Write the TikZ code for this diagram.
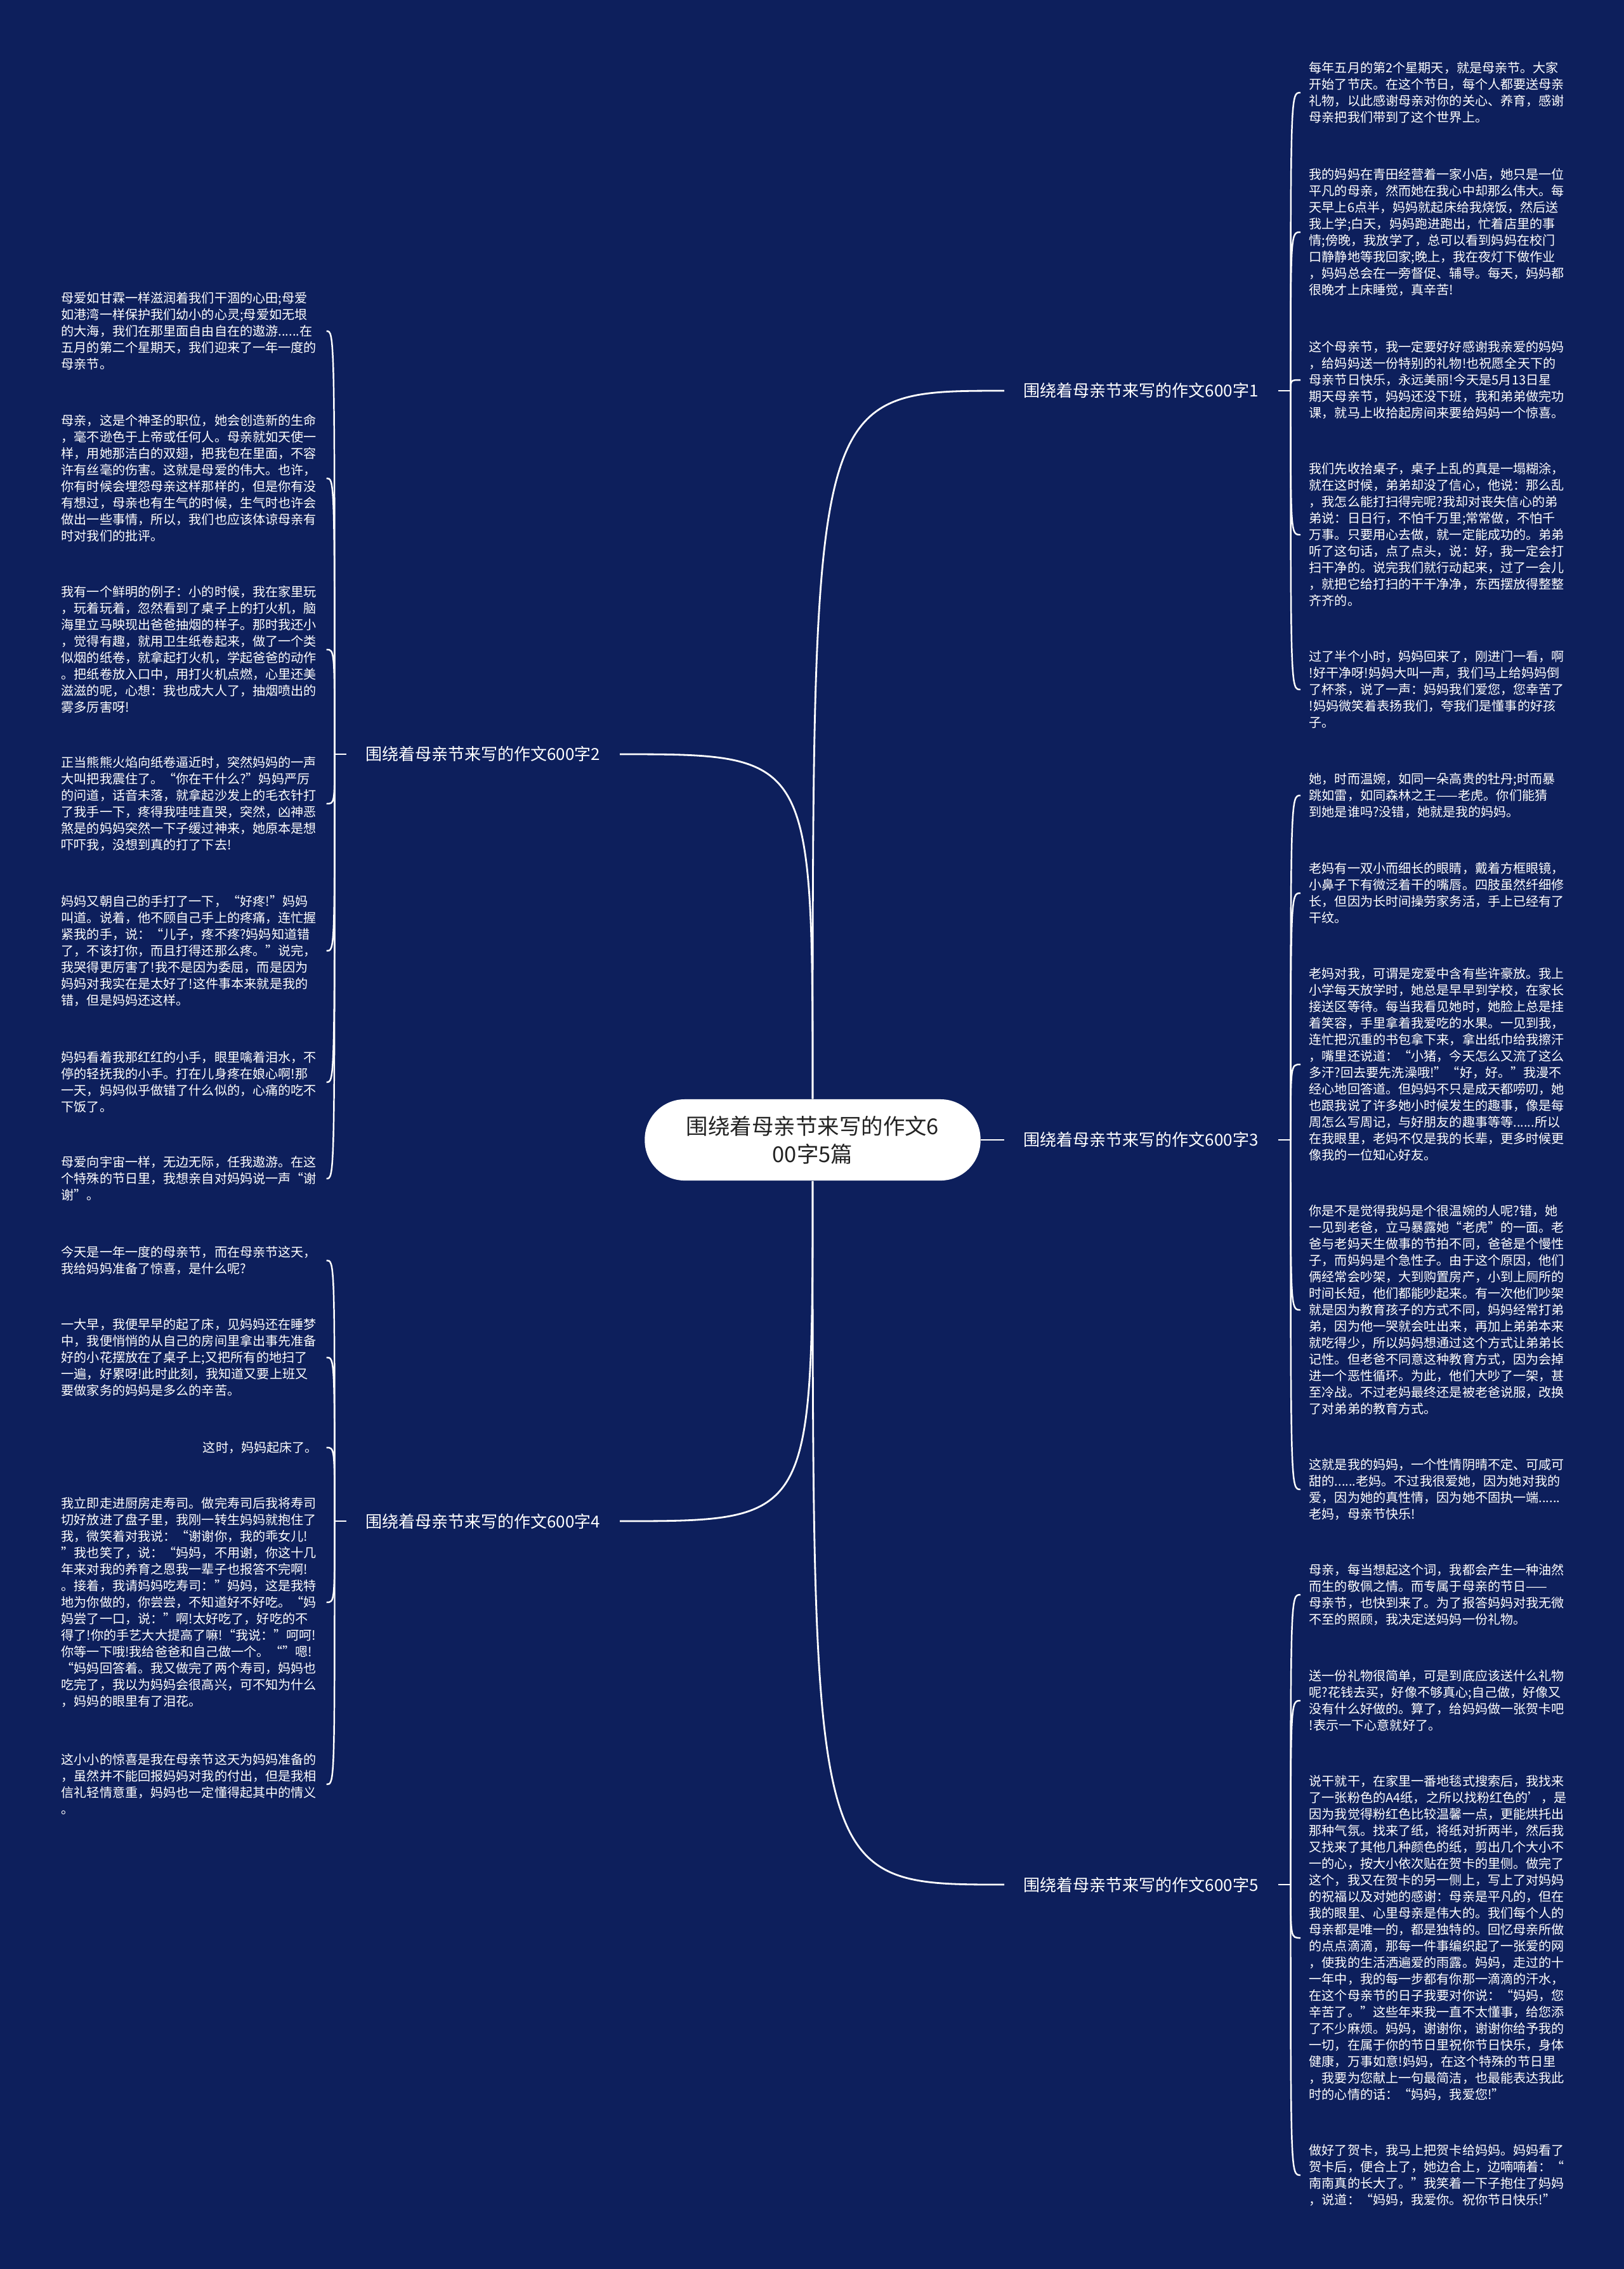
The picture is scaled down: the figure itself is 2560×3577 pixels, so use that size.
\documentclass[tikz,border=0pt]{standalone}
\usepackage{fontspec}
\setmainfont{Noto Sans CJK SC}
\usepackage{tikz}
\definecolor{navy}{RGB}{13,31,92}
\definecolor{rootink}{RGB}{35,35,35}

\begin{document}
\begin{tikzpicture}[
  x=0.01cm, y=-0.01cm,
  blk/.style={anchor=west, text=white, align=left, text width=4.04cm, inner xsep=0.13cm, inner ysep=0pt, font=\fontsize{5.72pt}{7.4pt}\selectfont},
  lbl/.style={text=white, inner xsep=0.3cm, inner ysep=2pt, font=\fontsize{7.4pt}{9pt}\selectfont},
  hub/.style={fill=white, text=rootink, rounded corners=0.63cm, minimum width=5.29cm, minimum height=1.28cm, align=center, font=\fontsize{9.8pt}{12.5pt}\selectfont},
  link/.style={draw=white, line width=0.8pt},
  twig/.style={draw=white, line width=0.7pt}
]
\fill[navy] (0,0) rectangle (2560,3577);

% centre and the five essays
\node[hub] (root) at (1281,1797) {围绕着母亲节来写的作文6\\00字5篇};
\node[lbl, anchor=west] (lab1) at (1583,616) {围绕着母亲节来写的作文600字1};
\node[lbl, anchor=east] (lab2) at (977,1189) {围绕着母亲节来写的作文600字2};
\node[lbl, anchor=west] (lab3) at (1583,1797) {围绕着母亲节来写的作文600字3};
\node[lbl, anchor=east] (lab4) at (977,2398) {围绕着母亲节来写的作文600字4};
\node[lbl, anchor=west] (lab5) at (1583,2971) {围绕着母亲节来写的作文600字5};

% essay 1
\node[blk] (t1a) at (2050,146) {每年五月的第2个星期天，就是母亲节。大家\\开始了节庆。在这个节日，每个人都要送母亲\\礼物，以此感谢母亲对你的关心、养育，感谢\\母亲把我们带到了这个世界上。};
\node[blk] (t1b) at (2050,366) {我的妈妈在青田经营着一家小店，她只是一位\\平凡的母亲，然而她在我心中却那么伟大。每\\天早上6点半，妈妈就起床给我烧饭，然后送\\我上学;白天，妈妈跑进跑出，忙着店里的事\\情;傍晚，我放学了，总可以看到妈妈在校门\\口静静地等我回家;晚上，我在夜灯下做作业\\，妈妈总会在一旁督促、辅导。每天，妈妈都\\很晚才上床睡觉，真辛苦!};
\node[blk] (t1c) at (2050,599) {这个母亲节，我一定要好好感谢我亲爱的妈妈\\，给妈妈送一份特别的礼物!也祝愿全天下的\\母亲节日快乐，永远美丽!今天是5月13日星\\期天母亲节，妈妈还没下班，我和弟弟做完功\\课，就马上收拾起房间来要给妈妈一个惊喜。};
\node[blk] (t1d) at (2050,843) {我们先收拾桌子，桌子上乱的真是一塌糊涂，\\就在这时候，弟弟却没了信心，他说：那么乱\\，我怎么能打扫得完呢?我却对丧失信心的弟\\弟说：日日行，不怕千万里;常常做，不怕千\\万事。只要用心去做，就一定能成功的。弟弟\\听了这句话，点了点头，说：好，我一定会打\\扫干净的。说完我们就行动起来，过了一会儿\\，就把它给打扫的干干净净，东西摆放得整整\\齐齐的。};
\node[blk] (t1e) at (2050,1087) {过了半个小时，妈妈回来了，刚进门一看，啊\\!好干净呀!妈妈大叫一声，我们马上给妈妈倒\\了杯茶，说了一声：妈妈我们爱您，您幸苦了\\!妈妈微笑着表扬我们，夸我们是懂事的好孩\\子。};

% essay 3
\node[blk] (t3a) at (2050,1254) {她，时而温婉，如同一朵高贵的牡丹;时而暴\\跳如雷，如同森林之王——老虎。你们能猜\\到她是谁吗?没错，她就是我的妈妈。};
\node[blk] (t3b) at (2050,1408) {老妈有一双小而细长的眼睛，戴着方框眼镜，\\小鼻子下有微泛着干的嘴唇。四肢虽然纤细修\\长，但因为长时间操劳家务活，手上已经有了\\干纹。};
\node[blk] (t3c) at (2050,1678) {老妈对我，可谓是宠爱中含有些许豪放。我上\\小学每天放学时，她总是早早到学校，在家长\\接送区等待。每当我看见她时，她脸上总是挂\\着笑容，手里拿着我爱吃的水果。一见到我，\\连忙把沉重的书包拿下来，拿出纸巾给我擦汗\\，嘴里还说道：“小猪，今天怎么又流了这么\\多汗?回去要先洗澡哦!”“好，好。”我漫不\\经心地回答道。但妈妈不只是成天都唠叨，她\\也跟我说了许多她小时候发生的趣事，像是每\\周怎么写周记，与好朋友的趣事等等......所以\\在我眼里，老妈不仅是我的长辈，更多时候更\\像我的一位知心好友。};
\node[blk] (t3d) at (2050,2065) {你是不是觉得我妈是个很温婉的人呢?错，她\\一见到老爸，立马暴露她“老虎”的一面。老\\爸与老妈天生做事的节拍不同，爸爸是个慢性\\子，而妈妈是个急性子。由于这个原因，他们\\俩经常会吵架，大到购置房产，小到上厕所的\\时间长短，他们都能吵起来。有一次他们吵架\\就是因为教育孩子的方式不同，妈妈经常打弟\\弟，因为他一哭就会吐出来，再加上弟弟本来\\就吃得少，所以妈妈想通过这个方式让弟弟长\\记性。但老爸不同意这种教育方式，因为会掉\\进一个恶性循环。为此，他们大吵了一架，甚\\至冷战。不过老妈最终还是被老爸说服，改换\\了对弟弟的教育方式。};
\node[blk] (t3e) at (2050,2348) {这就是我的妈妈，一个性情阴晴不定、可咸可\\甜的......老妈。不过我很爱她，因为她对我的\\爱，因为她的真性情，因为她不固执一端......\\老妈，母亲节快乐!};

% essay 5
\node[blk] (t5a) at (2050,2514) {母亲，每当想起这个词，我都会产生一种油然\\而生的敬佩之情。而专属于母亲的节日——\\母亲节，也快到来了。为了报答妈妈对我无微\\不至的照顾，我决定送妈妈一份礼物。};
\node[blk] (t5b) at (2050,2681) {送一份礼物很简单，可是到底应该送什么礼物\\呢?花钱去买，好像不够真心;自己做，好像又\\没有什么好做的。算了，给妈妈做一张贺卡吧\\!表示一下心意就好了。};
\node[blk] (t5c) at (2050,3055) {说干就干，在家里一番地毯式搜索后，我找来\\了一张粉色的A4纸，之所以找粉红色的'，是\\因为我觉得粉红色比较温馨一点，更能烘托出\\那种气氛。找来了纸，将纸对折两半，然后我\\又找来了其他几种颜色的纸，剪出几个大小不\\一的心，按大小依次贴在贺卡的里侧。做完了\\这个，我又在贺卡的另一侧上，写上了对妈妈\\的祝福以及对她的感谢：母亲是平凡的，但在\\我的眼里、心里母亲是伟大的。我们每个人的\\母亲都是唯一的，都是独特的。回忆母亲所做\\的点点滴滴，那每一件事编织起了一张爱的网\\，使我的生活洒遍爱的雨露。妈妈，走过的十\\一年中，我的每一步都有你那一滴滴的汗水，\\在这个母亲节的日子我要对你说：“妈妈，您\\辛苦了。”这些年来我一直不太懂事，给您添\\了不少麻烦。妈妈，谢谢你，谢谢你给予我的\\一切，在属于你的节日里祝你节日快乐，身体\\健康，万事如意!妈妈，在这个特殊的节日里\\，我要为您献上一句最简洁，也最能表达我此\\时的心情的话：“妈妈，我爱您!”};
\node[blk] (t5d) at (2050,3429) {做好了贺卡，我马上把贺卡给妈妈。妈妈看了\\贺卡后，便合上了，她边合上，边喃喃着：“\\南南真的长大了。”我笑着一下子抱住了妈妈\\，说道：“妈妈，我爱你。祝你节日快乐!”};

% essay 2
\node[blk] (t2a) at (83,522) {母爱如甘霖一样滋润着我们干涸的心田;母爱\\如港湾一样保护我们幼小的心灵;母爱如无垠\\的大海，我们在那里面自由自在的遨游......在\\五月的第二个星期天，我们迎来了一年一度的\\母亲节。};
\node[blk] (t2b) at (83,754) {母亲，这是个神圣的职位，她会创造新的生命\\，毫不逊色于上帝或任何人。母亲就如天使一\\样，用她那洁白的双翅，把我包在里面，不容\\许有丝毫的伤害。这就是母爱的伟大。也许，\\你有时候会埋怨母亲这样那样的，但是你有没\\有想过，母亲也有生气的时候，生气时也许会\\做出一些事情，所以，我们也应该体谅母亲有\\时对我们的批评。};
\node[blk] (t2c) at (83,1024) {我有一个鲜明的例子：小的时候，我在家里玩\\，玩着玩着，忽然看到了桌子上的打火机，脑\\海里立马映现出爸爸抽烟的样子。那时我还小\\，觉得有趣，就用卫生纸卷起来，做了一个类\\似烟的纸卷，就拿起打火机，学起爸爸的动作\\。把纸卷放入口中，用打火机点燃，心里还美\\滋滋的呢，心想：我也成大人了，抽烟喷出的\\雾多厉害呀!};
\node[blk] (t2d) at (83,1267) {正当熊熊火焰向纸卷逼近时，突然妈妈的一声\\大叫把我震住了。“你在干什么?”妈妈严厉\\的问道，话音未落，就拿起沙发上的毛衣针打\\了我手一下，疼得我哇哇直哭，突然，凶神恶\\煞是的妈妈突然一下子缓过神来，她原本是想\\吓吓我，没想到真的打了下去!};
\node[blk] (t2e) at (83,1499) {妈妈又朝自己的手打了一下，“好疼!”妈妈\\叫道。说着，他不顾自己手上的疼痛，连忙握\\紧我的手，说：“儿子，疼不疼?妈妈知道错\\了，不该打你，而且打得还那么疼。”说完，\\我哭得更厉害了!我不是因为委屈，而是因为\\妈妈对我实在是太好了!这件事本来就是我的\\错，但是妈妈还这样。};
\node[blk] (t2f) at (83,1706) {妈妈看着我那红红的小手，眼里噙着泪水，不\\停的轻抚我的小手。打在儿身疼在娘心啊!那\\一天，妈妈似乎做错了什么似的，心痛的吃不\\下饭了。};
\node[blk] (t2g) at (83,1858) {母爱向宇宙一样，无边无际，任我遨游。在这\\个特殊的节日里，我想亲自对妈妈说一声“谢\\谢”。};

% essay 4
\node[blk] (t4a) at (83,1987) {今天是一年一度的母亲节，而在母亲节这天，\\我给妈妈准备了惊喜，是什么呢?};
\node[blk] (t4b) at (83,2140) {一大早，我便早早的起了床，见妈妈还在睡梦\\中，我便悄悄的从自己的房间里拿出事先准备\\好的小花摆放在了桌子上;又把所有的地扫了\\一遍，好累呀!此时此刻，我知道又要上班又\\要做家务的妈妈是多么的辛苦。};
\node[blk, align=right] (t4c) at (83,2282) {这时，妈妈起床了。};
\node[blk] (t4d) at (83,2526) {我立即走进厨房走寿司。做完寿司后我将寿司\\切好放进了盘子里，我刚一转生妈妈就抱住了\\我，微笑着对我说：“谢谢你，我的乖女儿!\\”我也笑了，说：“妈妈，不用谢，你这十几\\年来对我的养育之恩我一辈子也报答不完啊!\\。接着，我请妈妈吃寿司：”妈妈，这是我特\\地为你做的，你尝尝，不知道好不好吃。“妈\\妈尝了一口，说：”啊!太好吃了，好吃的不\\得了!你的手艺大大提高了嘛!“我说：”呵呵!\\你等一下哦!我给爸爸和自己做一个。“”嗯!\\“妈妈回答着。我又做完了两个寿司，妈妈也\\吃完了，我以为妈妈会很高兴，可不知为什么\\，妈妈的眼里有了泪花。};
\node[blk] (t4e) at (83,2813) {这小小的惊喜是我在母亲节这天为妈妈准备的\\，虽然并不能回报妈妈对我的付出，但是我相\\信礼轻情意重，妈妈也一定懂得起其中的情义\\。};

% trunk
\draw[link] (root.north) .. controls (root.north |- lab1.west) .. (lab1.west);
\draw[link] (root.north) .. controls (root.north |- lab2.east) .. (lab2.east);
\draw[link] (root.east) -- (lab3.west);
\draw[link] (root.south) .. controls (root.south |- lab4.east) .. (lab4.east);
\draw[link] (root.south) .. controls (root.south |- lab5.west) .. (lab5.west);

% twigs to the paragraphs
\draw[twig] (lab1.east) -- ++(20,0) coordinate (k1);
\draw[twig] (lab3.east) -- ++(20,0) coordinate (k3);
\draw[twig] (lab5.east) -- ++(20,0) coordinate (k5);
\draw[twig] (lab2.west) -- ++(-18,0) coordinate (k2);
\draw[twig] (lab4.west) -- ++(-18,0) coordinate (k4);
\foreach \t in {t1a,t1b,t1c,t1d,t1e}
  \draw[twig] (k1) .. controls (k1 |- \t.west) .. (\t.west);
\foreach \t in {t3a,t3b,t3c,t3d,t3e}
  \draw[twig] (k3) .. controls (k3 |- \t.west) .. (\t.west);
\foreach \t in {t5a,t5b,t5c,t5d}
  \draw[twig] (k5) .. controls (k5 |- \t.west) .. (\t.west);
\foreach \t in {t2a,t2b,t2c,t2d,t2e,t2f,t2g}
  \draw[twig] (k2) .. controls (k2 |- \t.east) .. (\t.east);
\foreach \t in {t4a,t4b,t4c,t4d,t4e}
  \draw[twig] (k4) .. controls (k4 |- \t.east) .. (\t.east);
\end{tikzpicture}
\end{document}
